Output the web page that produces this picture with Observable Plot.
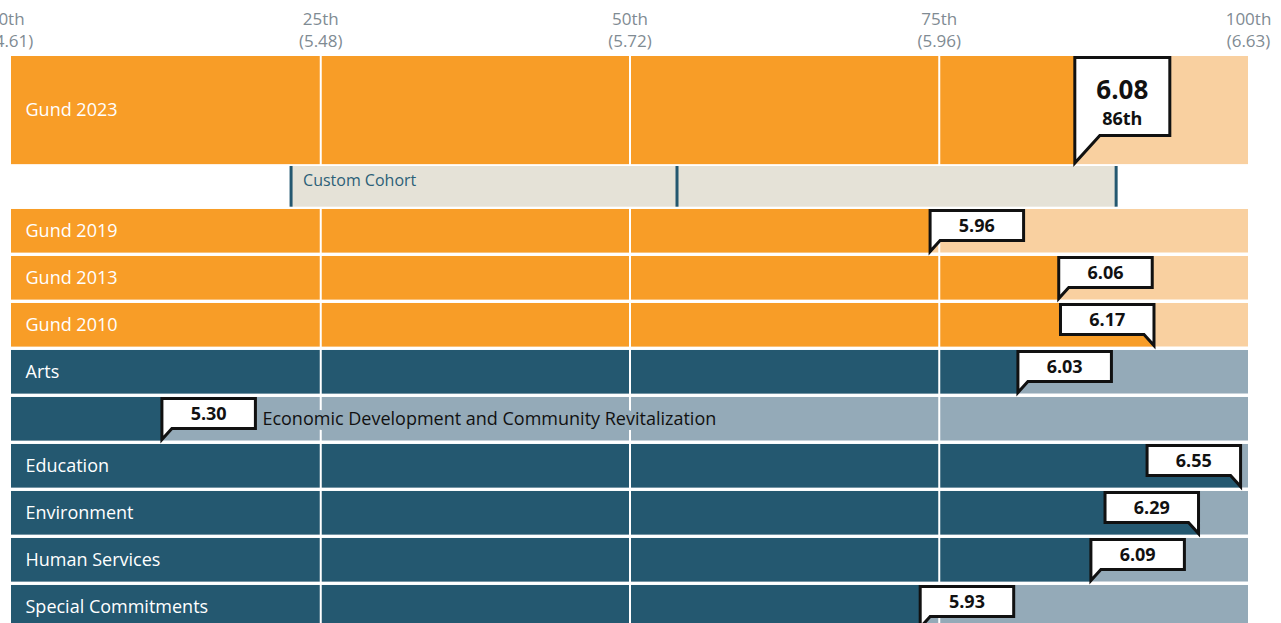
<!DOCTYPE html>
<html>
<head>
<meta charset="utf-8">
<script src="https://cdn.jsdelivr.net/npm/d3@7"></script>
<script src="https://cdn.jsdelivr.net/npm/@observablehq/plot@0.6"></script>
<style>
html, body { margin: 0; padding: 0; overflow: hidden; background: #fff; }
#chart svg { display: block; overflow: visible; }
</style>
</head>
<body>
<div id="chart"></div>
<script>
// ---- data ----
const tickPercentiles = [0, 25, 50, 75, 100];
const tickValues = ["4.61", "5.48", "5.72", "5.96", "6.63"];
const gridPercentiles = [25, 50, 75];

const rowNames = ["Gund 2023", "Gund 2019", "Gund 2013", "Gund 2010", "Arts",
  "Economic Development and Community Revitalization", "Education", "Environment",
  "Human Services", "Special Commitments"];
const rowGroups = ["gund", "gund", "gund", "gund", "program", "program", "program", "program", "program", "program"];
const rowValues = ["6.08", "5.96", "6.06", "6.17", "6.03", "5.30", "6.55", "6.29", "6.09", "5.93"];
const rowPercentiles = [86, 74.3, 84.7, 92.4, 81.4, 12.2, 99.4, 96.0, 87.3, 73.5];

const cohortLabel = "Custom Cohort";
const cohortMarks = [22.6, 53.8, 89.3]; // low, middle, high percentile

// ---- styling / layout ----
const palette = {
  gund: {dark: "#f89d27", light: "#f9d0a0"},
  program: {dark: "#245870", light: "#94aab8"}
};
const rowPitch = 47;
const top0 = 56;
const totalUnits = 12.3;

const rows = rowNames.map((name, i) => {
  const hero = i === 0;
  const y1 = hero ? 0 : 3.255 + (i - 1);
  const y2 = hero ? 2.3 : y1 + 0.926;
  return {name, group: rowGroups[i], value: rowValues[i], pct: rowPercentiles[i], hero, y1, y2,
          inside: rowPercentiles[i] > 40};
});
const cohort = {y1: 2.34, y2: 3.206, low: cohortMarks[0], high: cohortMarks[2]};

function callouts(data) {
  return (index, scales) => {
    const {x, y} = scales;
    const g = d3.create("svg:g");
    const xMax = x(100);
    for (const d of data) {
      const px = x(d.pct);
      const w = d.hero ? 95 : 93.5;
      const h = d.hero ? 78 : 30;
      const top = y(d.y1) + 1.5;
      const tip = y(d.y2) - 1;
      const join = d.hero ? 25 : 10;
      const s = px + w > xMax - 8 ? -1 : 1;
      const b = top + h;
      g.append("path")
        .attr("d", `M${px},${tip}L${px},${top}L${px + s * w},${top}L${px + s * w},${b}L${px + s * join},${b}Z`)
        .attr("fill", "#fff")
        .attr("stroke", "#111")
        .attr("stroke-width", 3)
        .attr("stroke-linejoin", "miter");
      const cx = px + s * w / 2;
      if (d.hero) {
        g.append("text").attr("x", cx).attr("y", top + 31).attr("text-anchor", "middle")
          .attr("dominant-baseline", "central").attr("font-weight", "bold").attr("font-size", 26)
          .attr("fill", "#111").text(d.value);
        g.append("text").attr("x", cx).attr("y", top + 60).attr("text-anchor", "middle")
          .attr("dominant-baseline", "central").attr("font-weight", "bold").attr("font-size", 18)
          .attr("fill", "#111").text(`${Math.round(d.pct)}th`);
      } else {
        g.append("text").attr("x", cx).attr("y", top + h / 2).attr("text-anchor", "middle")
          .attr("dominant-baseline", "central").attr("font-weight", "bold").attr("font-size", 18)
          .attr("fill", "#111").text(d.value);
      }
    }
    return g.node();
  };
}

const chart = Plot.plot({
  width: 1281,
  height: 640,
  marginLeft: 11,
  marginRight: 33,
  marginTop: top0,
  marginBottom: 6,
  style: {fontFamily: "'Open Sans', 'Noto Sans', sans-serif", fontSize: "17px", background: "#fff"},
  x: {domain: [0, 100], label: null},
  y: {domain: [0, totalUnits], range: [top0, top0 + totalUnits * rowPitch], label: null, axis: null},
  marks: [
    Plot.axisX({
      anchor: "top",
      ticks: tickPercentiles,
      tickSize: 0,
      tickPadding: 10,
      fontSize: 17,
      lineHeight: 1.24,
      color: "#7f8b93",
      tickFormat: d => `${d}th\n(${tickValues[tickPercentiles.indexOf(d)]})`
    }),
    Plot.rect(rows, {x1: 0, x2: 100, y1: "y1", y2: "y2", fill: d => palette[d.group].light}),
    Plot.rect(rows, {x1: 0, x2: "pct", y1: "y1", y2: "y2", fill: d => palette[d.group].dark}),
    Plot.ruleX(gridPercentiles, {y1: 0, y2: totalUnits, stroke: "#fff", strokeWidth: 2}),
    Plot.rect([cohort], {x1: "low", x2: "high", y1: "y1", y2: "y2", fill: "#e5e2d7"}),
    Plot.ruleX(cohortMarks, {y1: cohort.y1, y2: cohort.y2, stroke: "#245870", strokeWidth: 3}),
    Plot.text([cohort], {x: "low", y: d => d.y1 + 0.3, text: () => cohortLabel, textAnchor: "start",
      dx: 12, fontSize: 16, fill: "#2c5f78"}),
    Plot.text(rows.filter(d => d.inside), {x: 0, y: d => (d.y1 + d.y2) / 2, text: "name", textAnchor: "start",
      dx: 14, fontSize: 18, fill: "#fff"}),
    Plot.text(rows.filter(d => !d.inside), {x: "pct", y: d => (d.y1 + d.y2) / 2, text: "name", textAnchor: "start",
      dx: 100, fontSize: 18, fill: "#111", stroke: d => palette[d.group].light, strokeWidth: 10}),
    callouts(rows)
  ]
});
document.getElementById("chart").append(chart);
</script>
</body>
</html>
